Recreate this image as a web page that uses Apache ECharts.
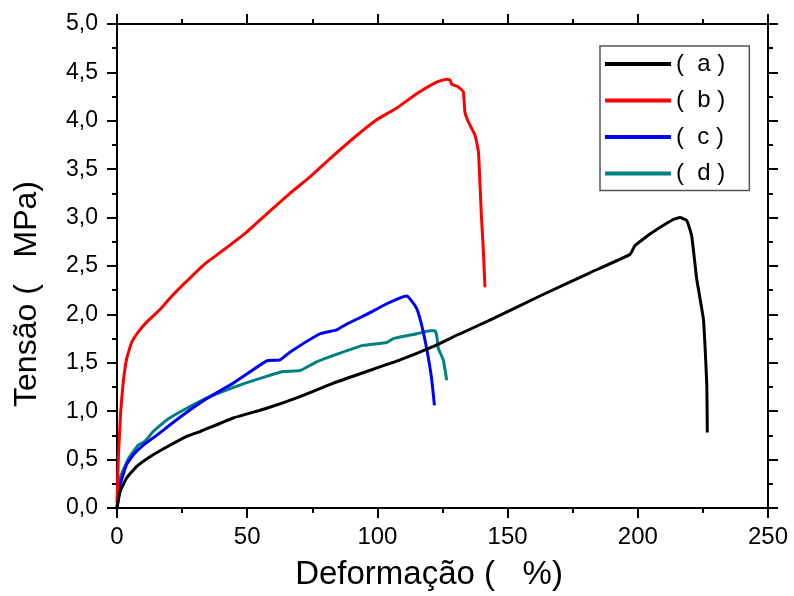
<!DOCTYPE html>
<html>
<head>
<meta charset="utf-8">
<script src="https://cdn.jsdelivr.net/npm/echarts@6/dist/echarts.min.js"></script>
<style>
html,body{margin:0;padding:0;background:#fff;}
#chart{width:794px;height:596px;}
</style>
</head>
<body>
<div id="chart"></div>
<script>
// Series labels
var seriesNames = ['(  a )', '(  b )', '(  c )', '(  d )'];
var seriesColors = ['#000000', '#ff0000', '#0000ff', '#008080'];

// (a) black
var aX = [0, 1.2, 3.7, 7.6, 12.7, 19.1, 26.8, 31.9, 44.7, 57.5, 70.3, 83.1, 95.9, 108.7, 121.5, 131.7, 143.2, 162.4, 181.6, 197.0, 198.9, 204.7, 213.6, 216.2, 218.8, 220.7, 222.6, 225.2, 225.8, 226.5, 226.7];
var aY = [0, 0.17, 0.31, 0.43, 0.53, 0.63, 0.74, 0.79, 0.93, 1.03, 1.15, 1.29, 1.41, 1.53, 1.67, 1.80, 1.94, 2.19, 2.43, 2.62, 2.71, 2.83, 2.98, 3.00, 2.97, 2.81, 2.37, 1.95, 1.68, 1.27, 0.78];

// (b) red
var bX = [0, 0.5, 1.4, 2.4, 3.7, 5.6, 8.2, 11.4, 16.5, 20.4, 25.5, 33.2, 42.1, 49.8, 58.8, 66.4, 74.1, 83.1, 90.8, 99.7, 107.3, 115.1, 122.8, 126.6, 127.9, 128.5, 131.1, 133.0, 133.6, 134.9, 137.5, 138.8, 139.4, 140.0, 140.7, 141.3];
var bY = [0.05, 0.51, 0.99, 1.30, 1.54, 1.71, 1.82, 1.92, 2.05, 2.17, 2.31, 2.51, 2.69, 2.85, 3.07, 3.25, 3.42, 3.64, 3.82, 4.01, 4.13, 4.28, 4.40, 4.43, 4.42, 4.38, 4.35, 4.30, 4.09, 3.99, 3.85, 3.68, 3.34, 2.99, 2.65, 2.28];

// (c) blue
var cX = [0, 1.2, 3.7, 6.3, 10.1, 15.2, 20.4, 26.8, 34.4, 44.7, 57.5, 62.6, 66.4, 78.0, 84.4, 88.2, 95.9, 103.6, 111.2, 112.5, 115.1, 117.0, 118.9, 120.8, 121.9];
var cY = [0, 0.24, 0.45, 0.55, 0.65, 0.75, 0.86, 0.99, 1.13, 1.29, 1.52, 1.53, 1.61, 1.80, 1.84, 1.90, 2.00, 2.11, 2.19, 2.16, 2.06, 1.89, 1.65, 1.34, 1.06];

// (d) teal
var dX = [0, 1.2, 4.4, 8.2, 10.8, 13.9, 19.1, 26.8, 35.7, 47.2, 56.2, 63.9, 70.3, 76.7, 85.6, 94.6, 103.6, 106.1, 115.1, 120.2, 122.1, 122.8, 123.4, 125.3, 126.6];
var dY = [0, 0.31, 0.51, 0.65, 0.69, 0.79, 0.91, 1.03, 1.15, 1.27, 1.35, 1.41, 1.42, 1.51, 1.60, 1.68, 1.71, 1.75, 1.80, 1.83, 1.83, 1.78, 1.65, 1.53, 1.32];

// Axis settings
var xMin = 0, xMax = 250, xStep = 50;
var yMin = 0, yMax = 5, yStep = 0.5;
var xTitle = 'Deformação (   %)';
var yTitle = 'Tensão (   MPa)';

function pairs(xs, ys) {
  var out = [];
  for (var i = 0; i < xs.length; i++) out.push([xs[i], ys[i]]);
  return out;
}
var allX = [aX, bX, cX, dX];
var allY = [aY, bY, cY, dY];

var FONT = 'Liberation Sans, Arial, sans-serif';
var axisLineStyle = { color: '#000', width: 2 };
var tickStyle = { color: '#000', width: 2 };

var chart = echarts.init(document.getElementById('chart'), null, { renderer: 'canvas' });

var series = seriesNames.map(function (n, i) {
  return {
    name: n,
    type: 'line',
    data: pairs(allX[i], allY[i]),
    showSymbol: false,
    symbol: 'none',
    smooth: 0.12,
    lineStyle: { color: seriesColors[i], width: 3 },
    itemStyle: { color: seriesColors[i] },
    xAxisIndex: 0,
    yAxisIndex: 0,
    z: 10 - i,
    animation: false
  };
});

var option = {
  animation: false,
  backgroundColor: '#fff',
  grid: { left: 117, right: 26, top: 24, bottom: 86, containLabel: false },
  legend: {
    orient: 'vertical',
    left: 600,
    top: 46,
    padding: [6, 24, 5, 5],
    itemGap: 12.5,
    itemWidth: 66,
    itemHeight: 4,
    icon: 'rect',
    borderColor: '#555',
    borderWidth: 1.5,
    textStyle: { fontFamily: FONT, fontSize: 24, color: '#000', lineHeight: 24 },
    data: seriesNames
  },
  xAxis: [{
    type: 'value', min: xMin, max: xMax, interval: xStep, position: 'bottom',
    name: xTitle, nameLocation: 'middle', nameGap: 50,
    nameTextStyle: { fontFamily: FONT, fontSize: 33, color: '#000', padding: [0, 27, 0, 0] },
    axisLine: { show: true, lineStyle: axisLineStyle },
    axisTick: { show: true, inside: false, length: 10, lineStyle: tickStyle },
    minorTick: { show: true, splitNumber: 2, length: 5, lineStyle: tickStyle },
    axisLabel: { fontFamily: FONT, fontSize: 24, color: '#000', margin: 17 },
    splitLine: { show: false }
  }, {
    type: 'value', min: xMin, max: xMax, interval: xStep, position: 'top',
    axisLine: { show: true, onZero: false, lineStyle: axisLineStyle },
    axisTick: { show: true, inside: false, length: 10, lineStyle: tickStyle },
    minorTick: { show: true, splitNumber: 2, length: 5, lineStyle: tickStyle },
    axisLabel: { show: false },
    splitLine: { show: false }
  }],
  yAxis: [{
    type: 'value', min: yMin, max: yMax, interval: yStep, position: 'left',
    name: yTitle, nameLocation: 'middle', nameGap: 74, nameRotate: 90,
    nameTextStyle: { fontFamily: FONT, fontSize: 32, color: '#000', padding: [0, 56, 0, 0] },
    axisLine: { show: true, onZero: false, lineStyle: axisLineStyle },
    axisTick: { show: true, inside: false, length: 10, lineStyle: tickStyle },
    minorTick: { show: true, splitNumber: 2, length: 5, lineStyle: tickStyle },
    axisLabel: {
      fontFamily: FONT, fontSize: 23, color: '#000', margin: 19,
      formatter: function (v) { return v.toFixed(1).replace('.', ','); }
    },
    splitLine: { show: false }
  }, {
    type: 'value', min: yMin, max: yMax, interval: yStep, position: 'right',
    axisLine: { show: true, onZero: false, lineStyle: axisLineStyle },
    axisTick: { show: true, inside: false, length: 10, lineStyle: tickStyle },
    minorTick: { show: true, splitNumber: 2, length: 5, lineStyle: tickStyle },
    axisLabel: { show: false },
    splitLine: { show: false }
  }],
  series: series
};
chart.setOption(option);
</script>
</body>
</html>
